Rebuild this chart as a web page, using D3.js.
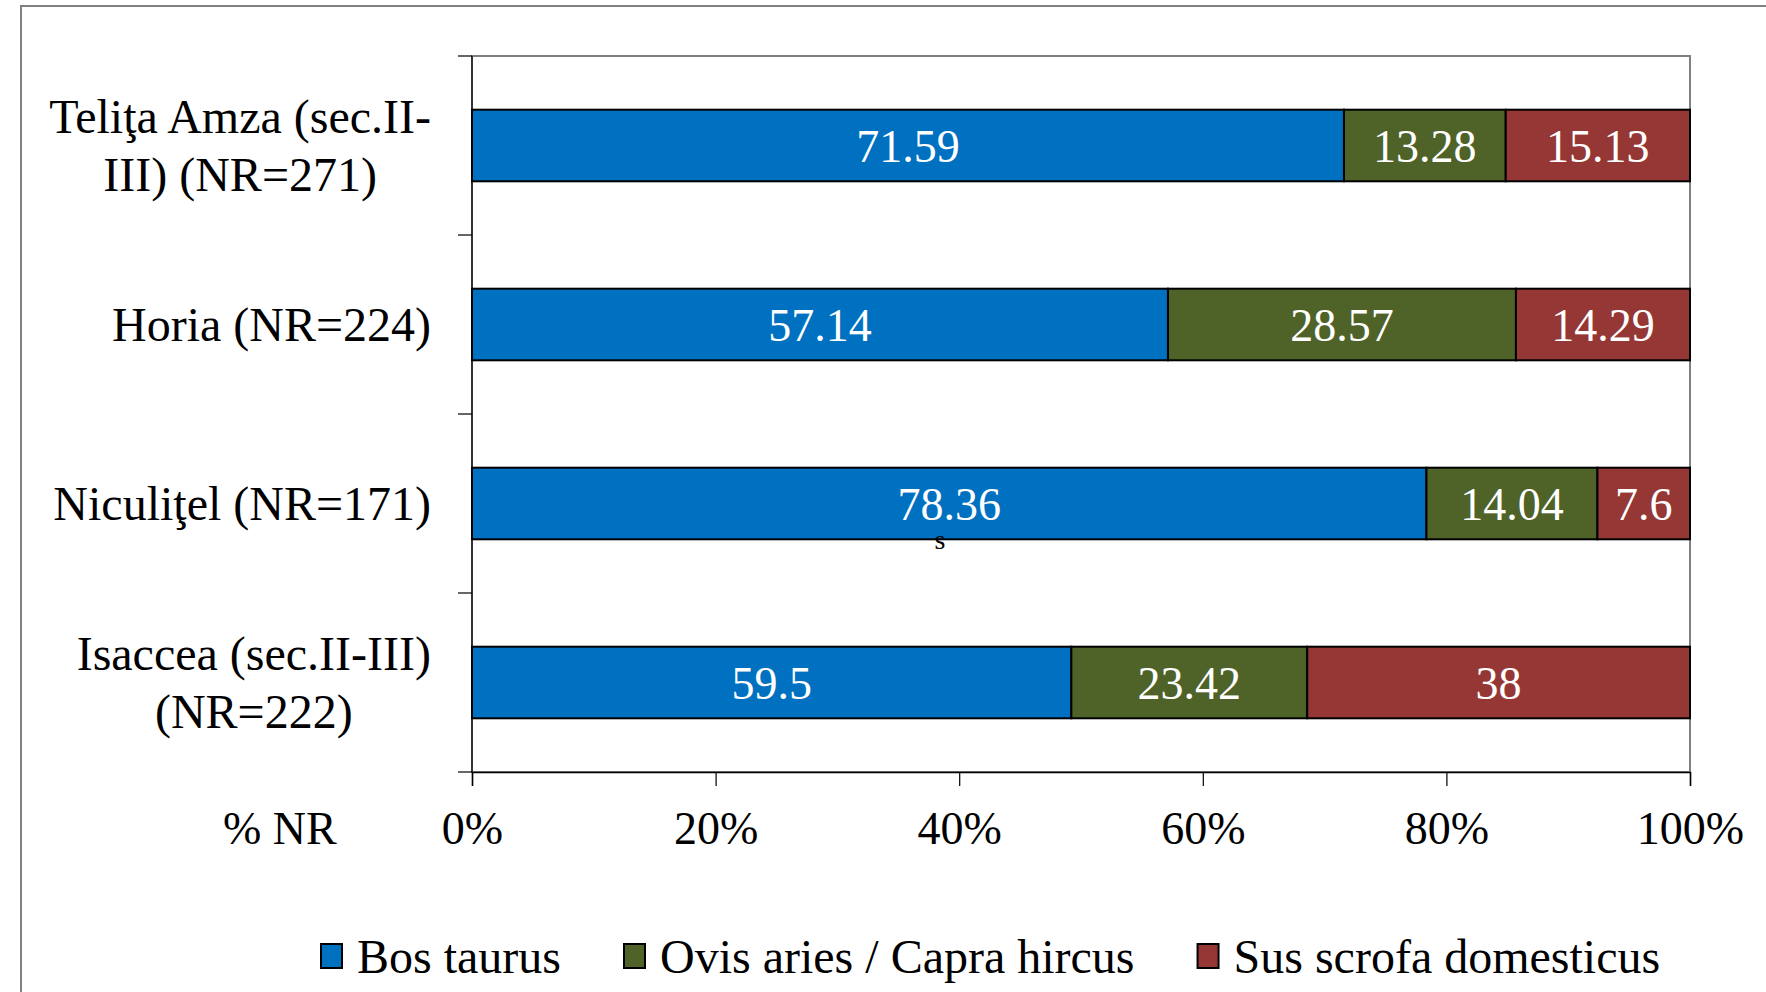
<!DOCTYPE html>
<html>
<head>
<meta charset="utf-8">
<script src="https://cdn.jsdelivr.net/npm/d3@7"></script>
<style>
  body { margin: 0; background: #ffffff; }
  svg text { font-family: "Liberation Serif", "Times New Roman", serif; }
</style>
</head>
<body>
<div id="chart"></div>
<script>
const width = 1766,
  height = 992;

// plot area
const plotLeft = 472,
  plotRight = 1690,
  plotTop = 56,
  plotBottom = 772;

// data
const sites = [
  ["Teliţa Amza (sec.II-", "III) (NR=271)"],
  ["Horia (NR=224)"],
  ["Niculiţel (NR=171)"],
  ["Isaccea (sec.II-III)", "(NR=222)"],
];
const species = ["Bos taurus", "Ovis aries / Capra hircus", "Sus scrofa domesticus"];
const colors = ["#0070C0", "#4F6228", "#953735"];
const bosValues = [71.59, 57.14, 78.36, 59.5];
const ovisValues = [13.28, 28.57, 14.04, 23.42];
const susValues = [15.13, 14.29, 7.6, 38];
const xTicks = [0, 20, 40, 60, 80, 100];

const rows = sites.map((s, i) => ({
  idx: i,
  values: [bosValues[i], ovisValues[i], susValues[i]],
}));

const svg = d3
  .select("#chart")
  .append("svg")
  .attr("width", width)
  .attr("height", height);

svg.append("rect").attr("width", width).attr("height", height).attr("fill", "#fff");

// outer frame (cut off page)
svg
  .append("path")
  .attr("d", `M21,${height} V6 H${width}`)
  .attr("fill", "none")
  .attr("stroke", "#808080")
  .attr("stroke-width", 2);

const xScale = d3.scaleLinear().domain([0, 100]).range([plotLeft, plotRight]);
const yScale = d3
  .scaleBand()
  .domain(d3.range(sites.length))
  .range([plotTop, plotBottom])
  .paddingInner(0.6)
  .paddingOuter(0.3);

// plot area border
svg
  .append("rect")
  .attr("x", plotLeft)
  .attr("y", plotTop)
  .attr("width", plotRight - plotLeft)
  .attr("height", plotBottom - plotTop)
  .attr("fill", "none")
  .attr("stroke", "#808080")
  .attr("stroke-width", 2);

// y axis ticks at category boundaries
const step = yScale.step();
svg
  .append("g")
  .selectAll("line")
  .data(d3.range(sites.length + 1))
  .enter()
  .append("line")
  .attr("x1", plotLeft - 14)
  .attr("x2", plotLeft)
  .attr("y1", (d) => plotTop + d * step)
  .attr("y2", (d) => plotTop + d * step)
  .attr("stroke", "#000")
  .attr("stroke-width", 1.2);

svg
  .append("line")
  .attr("x1", plotLeft)
  .attr("x2", plotLeft)
  .attr("y1", plotTop)
  .attr("y2", plotBottom)
  .attr("stroke", "#000")
  .attr("stroke-width", 1.2);

// x axis
const xAxis = d3
  .axisBottom(xScale)
  .tickValues(xTicks)
  .tickSize(14)
  .tickFormat((d) => d + "%");

const gx = svg.append("g").attr("transform", `translate(0, ${plotBottom})`).call(xAxis);
gx.select(".domain").attr("stroke", "#000").attr("stroke-width", 1.5);
gx.selectAll(".tick line").attr("stroke", "#000").attr("stroke-width", 1.2);
gx.selectAll(".tick text")
  .attr("y", 56)
  .attr("dy", "0.35em")
  .attr("fill", "#000")
  .style("font-size", "46px");

svg
  .append("text")
  .attr("x", 223)
  .attr("y", plotBottom + 56)
  .attr("dy", "0.35em")
  .style("font-size", "46px")
  .text("% NR");

// y labels
sites.forEach((lines, i) => {
  const cy = yScale(i) + yScale.bandwidth() / 2;
  const t = svg
    .append("text")
    .attr("text-anchor", "middle")
    .style("font-size", "48px");
  lines.forEach((ln, j) => {
    t.append("tspan")
      .attr("x", 0)
      .attr("y", cy + (j - (lines.length - 1) / 2) * 58)
      .attr("dy", "0.35em")
      .text(ln);
  });
  // right align the centered block
  const w = t.node().getBBox().width;
  t.selectAll("tspan").attr("x", 431 - w / 2);
});

// bars
rows.forEach((row) => {
  const total = d3.sum(row.values);
  let acc = 0;
  row.values.forEach((v, k) => {
    const x0 = xScale((acc / total) * 100);
    acc += v;
    const x1 = xScale((acc / total) * 100);
    svg
      .append("rect")
      .attr("x", x0)
      .attr("y", yScale(row.idx))
      .attr("width", x1 - x0)
      .attr("height", yScale.bandwidth())
      .attr("fill", colors[k])
      .attr("stroke", "#000")
      .attr("stroke-width", 2);
    svg
      .append("text")
      .attr("x", (x0 + x1) / 2)
      .attr("y", yScale(row.idx) + yScale.bandwidth() / 2)
      .attr("dy", "0.35em")
      .attr("text-anchor", "middle")
      .attr("fill", "#fff")
      .style("font-size", "46px")
      .text(v);
  });
});

// stray "s" under 78.36
svg
  .append("text")
  .attr("x", 940)
  .attr("y", 549)
  .attr("text-anchor", "middle")
  .style("font-size", "28px")
  .text("s");

// legend
let lx = 321;
species.forEach((name, k) => {
  svg
    .append("rect")
    .attr("x", lx)
    .attr("y", 944)
    .attr("width", 21)
    .attr("height", 24)
    .attr("fill", colors[k])
    .attr("stroke", "#000")
    .attr("stroke-width", 2);
  const t = svg
    .append("text")
    .attr("x", lx + 36)
    .attr("y", 956)
    .attr("dy", "0.35em")
    .style("font-size", "48px")
    .text(name);
  lx += 36 + t.node().getComputedTextLength() + 63;
});
</script>
</body>
</html>
